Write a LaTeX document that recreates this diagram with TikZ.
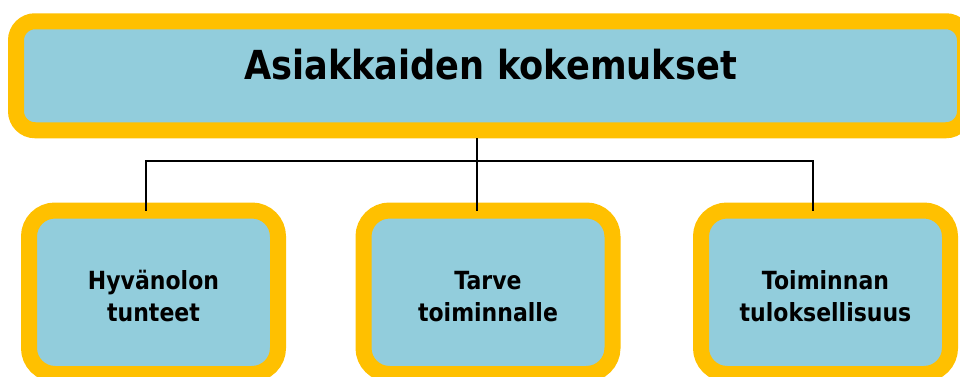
\documentclass[tikz,border=0pt]{standalone}
\usepackage{fontspec}
\setmainfont{DejaVu Sans}[FakeStretch=0.88]
\definecolor{boxblue}{HTML}{92CDDC}
\definecolor{rimyellow}{HTML}{FFC000}
\tikzset{
  rim/.style={draw=rimyellow, line width=16pt, fill=boxblue, inner sep=0pt},
  titlebox/.style={rim, rounded corners=19pt, minimum width=949pt, minimum height=109pt,
    font=\bfseries\fontsize{40}{44}\selectfont, text height=30pt, text depth=22pt},
  subbox/.style={rim, outer sep=0pt, rounded corners=26pt, minimum width=249pt,
    minimum height=163.5pt, align=center, font=\bfseries\fontsize{25}{32}\selectfont,
    text height=60pt, text depth=2.5pt},
  link/.style={line width=2pt}
}
\begin{document}
\begin{tikzpicture}[x=1pt, y=-1pt]
  \useasboundingbox (0,0) rectangle (960,376);
  % top box
  \node[titlebox] (title) at (490.5,75.75) {Asiakkaiden kokemukset};
  % three boxes below
  \node[subbox] (feel)   at (153.5,292.25) {Hyvänolon\\tunteet};
  \node[subbox] (need)   at (488,292.25)   {Tarve\\toiminnalle};
  \node[subbox] (result) at (825.5,292.25) {Toiminnan\\tuloksellisuus};
  % connectors
  \draw[link] ([xshift=-13.5pt]title.south) -- ([xshift=-11pt]need.north);
  \draw[link] ([xshift=-7.5pt]feel.north) -- ++(0,-50) -| ([xshift=-12.5pt]result.north);
\end{tikzpicture}
\end{document}
